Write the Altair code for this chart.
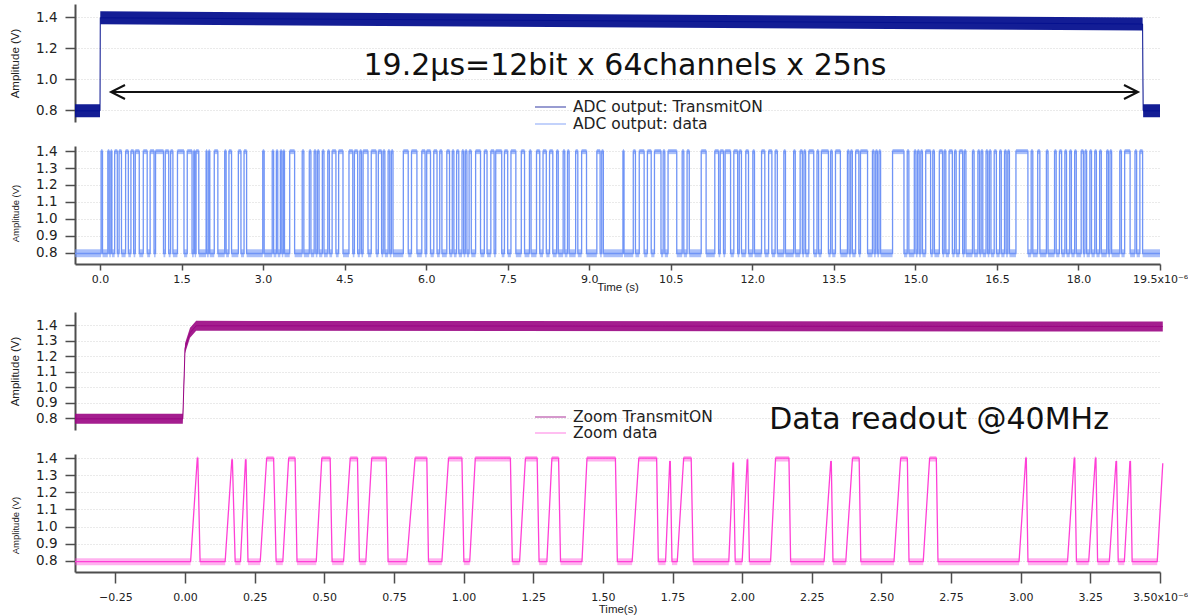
import altair as alt
import pandas as pd

# ---------------------------------------------------------------------------
# Scope captures of the ADC serial output (times in microseconds, volts)
# ---------------------------------------------------------------------------

# TransmitON over the whole 19.2 us frame
txon_t_us = [-0.46, 0.0, 0.005, 19.18, 19.19, 19.5]
txon_v = [0.795, 0.795, 1.395, 1.355, 0.795, 0.795]

# TransmitON, zoom on the start of the frame
zoom_txon_t_us = [-0.395, -0.008, 0.0, 0.018, 0.04, 3.51]
zoom_txon_v = [0.795, 0.795, 1.25, 1.35, 1.395, 1.39]

# Data line, first 3.5 us: rise start, top reached, fall start, back low, top level
zoom_rise_us = [0.020, 0.144, 0.199, 0.270, 0.351, 0.471, 0.569, 0.649, 0.796, 0.922,
                1.022, 1.201, 1.299, 1.425, 1.605, 1.725, 1.767, 1.952, 2.000, 2.102,
                2.294, 2.372, 2.545, 2.650, 2.994, 3.168, 3.244, 3.318, 3.372]
zoom_top_us = [0.044, 0.168, 0.217, 0.293, 0.372, 0.491, 0.593, 0.670, 0.826, 0.946,
               1.042, 1.222, 1.317, 1.443, 1.629, 1.740, 1.790, 1.967, 2.018, 2.120,
               2.318, 2.396, 2.569, 2.673, 3.018, 3.192, 3.268, 3.342, 3.392]
zoom_fall_us = [0.046, 0.170, 0.219, 0.318, 0.395, 0.521, 0.619, 0.722, 0.868, 0.994,
                1.168, 1.264, 1.341, 1.545, 1.693, 1.742, 1.817, 1.969, 2.020, 2.168,
                2.320, 2.420, 2.593, 2.697, 3.020, 3.194, 3.270, 3.344, 3.394]
zoom_low_us = [0.054, 0.180, 0.226, 0.327, 0.402, 0.528, 0.626, 0.729, 0.874, 1.001,
               1.175, 1.271, 1.348, 1.552, 1.699, 1.748, 1.824, 1.975, 2.026, 2.174,
               2.326, 2.426, 2.599, 2.703, 3.026, 3.200, 3.276, 3.350, 3.400]
zoom_peak_v = [1.40, 1.39, 1.39, 1.40, 1.40, 1.40, 1.40, 1.40, 1.40, 1.40,
               1.40, 1.40, 1.40, 1.40, 1.40, 1.38, 1.40, 1.37, 1.39, 1.40,
               1.38, 1.40, 1.40, 1.40, 1.40, 1.40, 1.40, 1.38, 1.38]
# rising edge still in progress where the zoom window ends
zoom_tail_t_us = [3.490, 3.510]
zoom_tail_v = [0.795, 1.37]

# Data line, rest of the frame: high intervals (rise, fall)
data_rise_us = [3.49, 3.72, 3.85, 3.94, 4.00, 4.09, 4.19, 4.27, 4.39, 4.58, 4.68, 4.78, 4.84,
                4.99, 5.12, 5.21, 5.30, 5.36, 5.58, 5.73, 5.92, 6.01, 6.14, 6.25, 6.38, 6.48,
                6.56, 6.66, 6.72, 6.79, 6.91, 7.07, 7.19, 7.28, 7.44, 7.56, 7.75, 7.90, 8.03,
                8.15, 8.27, 8.40, 8.52, 8.60, 8.75, 8.86, 9.14, 9.23,
                9.62, 9.81, 9.92, 10.07, 10.20, 10.36, 10.45, 10.71, 10.80, 11.06, 11.31,
                11.41, 11.50, 11.66, 11.76, 11.88, 12.01, 12.17, 12.30, 12.42, 12.58,
                12.76, 12.88, 12.95, 13.04, 13.19, 13.27, 13.44, 13.53, 13.75, 13.81, 13.90,
                13.99, 14.21, 14.27, 14.33, 14.58, 14.85, 14.98, 15.04, 15.10, 15.19, 15.32,
                15.44, 15.53, 15.62, 15.72, 15.81, 15.90, 16.05, 16.15, 16.21, 16.30, 16.36,
                16.45, 16.55, 16.64, 16.70, 16.85, 17.13, 17.25, 17.41, 17.56, 17.65, 17.75,
                17.84, 17.93, 18.05, 18.12, 18.21, 18.30, 18.39, 18.52, 18.58, 18.76, 18.85,
                19.04, 19.13]
data_fall_us = [3.58, 3.75, 3.88, 3.97, 4.03, 4.12, 4.22, 4.34, 4.47, 4.65, 4.74, 4.81, 4.93,
                5.08, 5.18, 5.24, 5.33, 5.39, 5.67, 5.83, 5.98, 6.08, 6.20, 6.29, 6.43, 6.51,
                6.60, 6.69, 6.75, 6.83, 7.00, 7.12, 7.25, 7.39, 7.50, 7.65, 7.81, 7.93, 8.09,
                8.21, 8.33, 8.43, 8.55, 8.63, 8.79, 8.95, 9.20, 9.26,
                9.64, 9.85, 10.01, 10.14, 10.32, 10.39, 10.61, 10.74, 10.84, 11.15, 11.38,
                11.47, 11.60, 11.73, 11.80, 11.93, 12.04, 12.23, 12.36, 12.46, 12.61,
                12.79, 12.92, 12.98, 13.13, 13.22, 13.40, 13.47, 13.62, 13.78, 13.84, 13.96,
                14.12, 14.24, 14.30, 14.36, 14.79, 14.88, 15.01, 15.07, 15.13, 15.28, 15.35,
                15.50, 15.56, 15.68, 15.75, 15.87, 15.93, 16.08, 16.18, 16.24, 16.33, 16.39,
                16.49, 16.58, 16.67, 16.73, 17.07, 17.16, 17.29, 17.44, 17.59, 17.69, 17.78,
                17.87, 17.96, 18.09, 18.15, 18.24, 18.33, 18.42, 18.55, 18.61, 18.79, 18.95,
                19.07, 19.18]

LOW_V = 0.795
HIGH_V = 1.40
frame_start_us, frame_end_us = -0.46, 19.5
zoom_start_us = -0.395

top_ticks = [0, 1.5, 3, 4.5, 6, 7.5, 9, 10.5, 12, 13.5, 15, 16.5, 18, 19.5]
bottom_ticks = [-0.25, 0, 0.25, 0.5, 0.75, 1, 1.25, 1.5, 1.75, 2, 2.25, 2.5, 2.75,
                3, 3.25, 3.5]
wide_ticks = [0.8, 1.0, 1.2, 1.4]
fine_ticks = [0.8, 0.9, 1.0, 1.1, 1.2, 1.3, 1.4]

legend_top = ["ADC output: TransmitON", "ADC output: data"]
legend_bottom = ["Zoom TransmitON", "Zoom data"]
note_top = "19.2\u00b5s=12bit x 64channels x 25ns"
note_bottom = "Data readout @40MHz"

NAVY = "#06118f"
LIGHT_BLUE = "#7094f6"
PURPLE = "#9a0683"
PINK = "#ff3fd6"

W, H = 1085, 118

# ---------------------------------------------------------------------------
# Tables built from the arrays above
# ---------------------------------------------------------------------------
def band_frame(t, v, half):
    return pd.DataFrame({"t": t, "v": v,
                         "lo": [x - half for x in v], "hi": [x + half for x in v]})

txon_df = band_frame(txon_t_us, txon_v, 0.042)
zoom_txon_df = band_frame(zoom_txon_t_us, zoom_txon_v, 0.032)

# full-frame data line as level changes (drawn with step interpolation)
all_rise = zoom_rise_us + data_rise_us
all_fall = zoom_fall_us + data_fall_us
step_t, step_v = [frame_start_us], [LOW_V]
for r, f in zip(all_rise, all_fall):
    step_t += [r, f]
    step_v += [HIGH_V, LOW_V]
step_t.append(frame_end_us)
step_v.append(LOW_V)
data_df = pd.DataFrame({"t": step_t, "v": step_v})

lows_start = [frame_start_us] + all_fall
lows_end = all_rise + [frame_end_us]
data_low_df = pd.DataFrame({"t": lows_start, "t2": lows_end,
                            "lo": LOW_V - 0.022, "hi": LOW_V + 0.025})
data_high_df = pd.DataFrame({"t": all_rise, "t2": all_fall,
                             "lo": HIGH_V - 0.018, "hi": HIGH_V + 0.012})

# zoomed data line as a polyline
zt, zv = [zoom_start_us], [LOW_V]
for r, tp, f, lw, pk in zip(zoom_rise_us, zoom_top_us, zoom_fall_us, zoom_low_us, zoom_peak_v):
    zt += [r, tp, f, lw]
    zv += [LOW_V, pk, pk, LOW_V]
zt += zoom_tail_t_us
zv += zoom_tail_v
zoom_df = pd.DataFrame({"t": zt, "v": zv})

zoom_low_df = pd.DataFrame({"t": [zoom_start_us] + zoom_low_us,
                            "t2": zoom_rise_us + [zoom_tail_t_us[0]],
                            "lo": LOW_V - 0.02, "hi": LOW_V + 0.02})
zoom_high_df = pd.DataFrame({"t": zoom_top_us, "t2": zoom_fall_us,
                             "lo": [p - 0.02 for p in zoom_peak_v],
                             "hi": [p + 0.012 for p in zoom_peak_v]})

# ---------------------------------------------------------------------------
# Scales and axes
# ---------------------------------------------------------------------------
x_frame = alt.Scale(domain=[frame_start_us, frame_end_us], nice=False, zero=False)
x_zoom = alt.Scale(domain=[zoom_start_us, 3.5], nice=False, zero=False)
y_wide = alt.Scale(domain=[0.723, 1.484], nice=False, zero=False)
y_data = alt.Scale(domain=[0.733, 1.43], nice=False, zero=False)
y_zoom = alt.Scale(domain=[0.735, 1.424], nice=False, zero=False)

AXIS_GREY = "#4d4d4d"


def y_axis(values, title_size, title_y):
    return alt.Axis(values=values, tickCount=len(values), format=".1f",
                    title="Amplitude (V)",
                    grid=True, gridColor="#d4d4d4", gridDash=[1, 2], gridWidth=1,
                    domainColor=AXIS_GREY, domainWidth=2, tickColor=AXIS_GREY,
                    tickWidth=1.5, tickSize=10, labelFont="DejaVu Sans",
                    labelFontSize=13.5, labelColor="#222222", labelPadding=8,
                    labelOverlap=False, labelFlush=False,
                    titleFont="Liberation Sans", titleFontSize=title_size,
                    titleFontWeight="normal", titleColor="#222222", titleX=-60,
                    titleY=title_y, titleAngle=270, titleAlign="center",
                    titleBaseline="middle")


def x_axis(values, label_expr, title, tick_size, label_pad, title_y):
    return alt.Axis(values=values, labelExpr=label_expr, title=title, grid=False,
                    domainColor=AXIS_GREY, domainWidth=2, tickColor=AXIS_GREY,
                    tickWidth=1.5, tickSize=tick_size, labelFont="DejaVu Sans",
                    labelFontSize=11, labelColor="#222222", labelPadding=label_pad,
                    labelFlush=False, labelOverlap=False, titleFont="Liberation Sans",
                    titleFontSize=11.5, titleFontWeight="normal", titleColor="#222222",
                    titleY=title_y, titleBaseline="middle")


def text_at(label, x, y, size, color="#111111", font="DejaVu Sans", align="left"):
    return alt.Chart(pd.DataFrame({"label": [label]})).mark_text(
        font=font, fontSize=size, color=color, align=align, baseline="middle"
    ).encode(text="label:N", x=alt.value(x), y=alt.value(y))


def swatch(color, y, opacity):
    return alt.Chart(pd.DataFrame({"k": [0]})).mark_rule(
        color=color, strokeWidth=1.5, opacity=opacity
    ).encode(x=alt.value(460), x2=alt.value(491), y=alt.value(y))


def gap(height):
    # empty strip that separates the stacked panels
    return alt.Chart(pd.DataFrame({"k": [0]})).mark_point(opacity=0).encode(
        x=alt.value(0), y=alt.value(0)).properties(width=W, height=height)


# ---------------------------------------------------------------------------
# Panel 1: TransmitON, full frame
# ---------------------------------------------------------------------------
ax1 = y_axis(wide_ticks, 11.5, H / 2)
p1_base = alt.Chart(txon_df)
p1_band = p1_base.mark_area(color=NAVY, opacity=0.95).encode(
    x=alt.X("t:Q", scale=x_frame, axis=None),
    y=alt.Y("lo:Q", scale=y_wide, axis=ax1),
    y2="hi:Q")
p1_line = p1_base.mark_line(color=NAVY, strokeWidth=1).encode(
    x=alt.X("t:Q", scale=x_frame, axis=None),
    y=alt.Y("v:Q", scale=y_wide, axis=ax1))

arrow_row = pd.DataFrame({"k": [0]})
arrow_line = alt.Chart(arrow_row).mark_rule(color="#111111", strokeWidth=2).encode(
    x=alt.value(36), x2=alt.value(1063), y=alt.value(88))
arrow_left = alt.Chart(arrow_row).mark_point(
    shape="M2,-1L0,0L2,1", filled=False, color="#111111", strokeWidth=2, size=196,
    opacity=1).encode(x=alt.value(36), y=alt.value(88))
arrow_right = alt.Chart(arrow_row).mark_point(
    shape="M-2,-1L0,0L-2,1", filled=False, color="#111111", strokeWidth=2, size=196,
    opacity=1).encode(x=alt.value(1063), y=alt.value(88))

panel1 = alt.layer(
    p1_band, p1_line, arrow_line, arrow_left, arrow_right,
    text_at(note_top, 550, 62, 30, align="center"),
    swatch(NAVY, 103, 0.55), swatch(LIGHT_BLUE, 120, 0.55),
    text_at(legend_top[0], 498, 103, 15.5, color="#222222"),
    text_at(legend_top[1], 498, 120, 15.5, color="#222222"),
).properties(width=W, height=H)

# ---------------------------------------------------------------------------
# Panel 2: data line, full frame
# ---------------------------------------------------------------------------
ax2x = x_axis(top_ticks,
              "datum.value == 19.5 ? '19.5x10\u207b\u2076' : format(datum.value, '.1f')",
              "Time (s)", 6, 3, 23)
ax2y = y_axis(fine_ticks, 9.5, 67)
x2_enc = alt.X("t:Q", scale=x_frame, axis=ax2x)
p2_low = alt.Chart(data_low_df).mark_rect(color=LIGHT_BLUE, opacity=0.6).encode(
    x=x2_enc, x2="t2:Q", y=alt.Y("lo:Q", scale=y_data, axis=ax2y), y2="hi:Q")
p2_high = alt.Chart(data_high_df).mark_rect(color=LIGHT_BLUE, opacity=0.6).encode(
    x=x2_enc, x2="t2:Q", y=alt.Y("lo:Q", scale=y_data, axis=ax2y), y2="hi:Q")
p2_line = alt.Chart(data_df).mark_line(
    color=LIGHT_BLUE, strokeWidth=1.3, interpolate="step-after").encode(
    x=x2_enc, y=alt.Y("v:Q", scale=y_data, axis=ax2y))

panel2 = alt.layer(p2_low, p2_high, p2_line).properties(width=W, height=H)

# ---------------------------------------------------------------------------
# Panel 3: TransmitON, zoom
# ---------------------------------------------------------------------------
ax3 = y_axis(fine_ticks, 11.5, H / 2)
p3_base = alt.Chart(zoom_txon_df)
p3_band = p3_base.mark_area(color=PURPLE, opacity=0.9).encode(
    x=alt.X("t:Q", scale=x_zoom, axis=None),
    y=alt.Y("lo:Q", scale=y_wide, axis=ax3),
    y2="hi:Q")
p3_line = p3_base.mark_line(color=PURPLE, strokeWidth=1).encode(
    x=alt.X("t:Q", scale=x_zoom, axis=None),
    y=alt.Y("v:Q", scale=y_wide, axis=ax3))

panel3 = alt.layer(
    p3_band, p3_line,
    swatch(PURPLE, 105, 0.55), swatch(PINK, 121, 0.45),
    text_at(legend_bottom[0], 498, 105, 15.5, color="#222222"),
    text_at(legend_bottom[1], 498, 121, 15.5, color="#222222"),
    text_at(note_bottom, 864, 108, 30, align="center"),
).properties(width=W, height=H)

# ---------------------------------------------------------------------------
# Panel 4: data line, zoom
# ---------------------------------------------------------------------------
ax4x = x_axis(bottom_ticks,
              "datum.value == 3.5 ? '3.50x10\u207b\u2076' : format(datum.value, '.2f')",
              "Time(s)", 11, 8, 37)
ax4y = y_axis(fine_ticks, 9.5, 71)
x4_enc = alt.X("t:Q", scale=x_zoom, axis=ax4x)
p4_low = alt.Chart(zoom_low_df).mark_rect(color=PINK, opacity=0.4).encode(
    x=x4_enc, x2="t2:Q", y=alt.Y("lo:Q", scale=y_zoom, axis=ax4y), y2="hi:Q")
p4_high = alt.Chart(zoom_high_df).mark_rect(color=PINK, opacity=0.4).encode(
    x=x4_enc, x2="t2:Q", y=alt.Y("lo:Q", scale=y_zoom, axis=ax4y), y2="hi:Q")
p4_line = alt.Chart(zoom_df).mark_line(color=PINK, strokeWidth=1.3).encode(
    x=x4_enc, y=alt.Y("v:Q", scale=y_zoom, axis=ax4y))

panel4 = alt.layer(p4_low, p4_high, p4_line).properties(width=W, height=H)

# ---------------------------------------------------------------------------
chart = alt.vconcat(
    panel1, gap(24), panel2, gap(48), panel3, gap(24), panel4,
    spacing=0, bounds="flush",
).properties(
    padding={"left": 9, "top": 4, "right": 0, "bottom": 0},
    background="white",
).configure_view(stroke=None)

chart.save("out.html", embed_options={"renderer": "svg", "actions": False})
